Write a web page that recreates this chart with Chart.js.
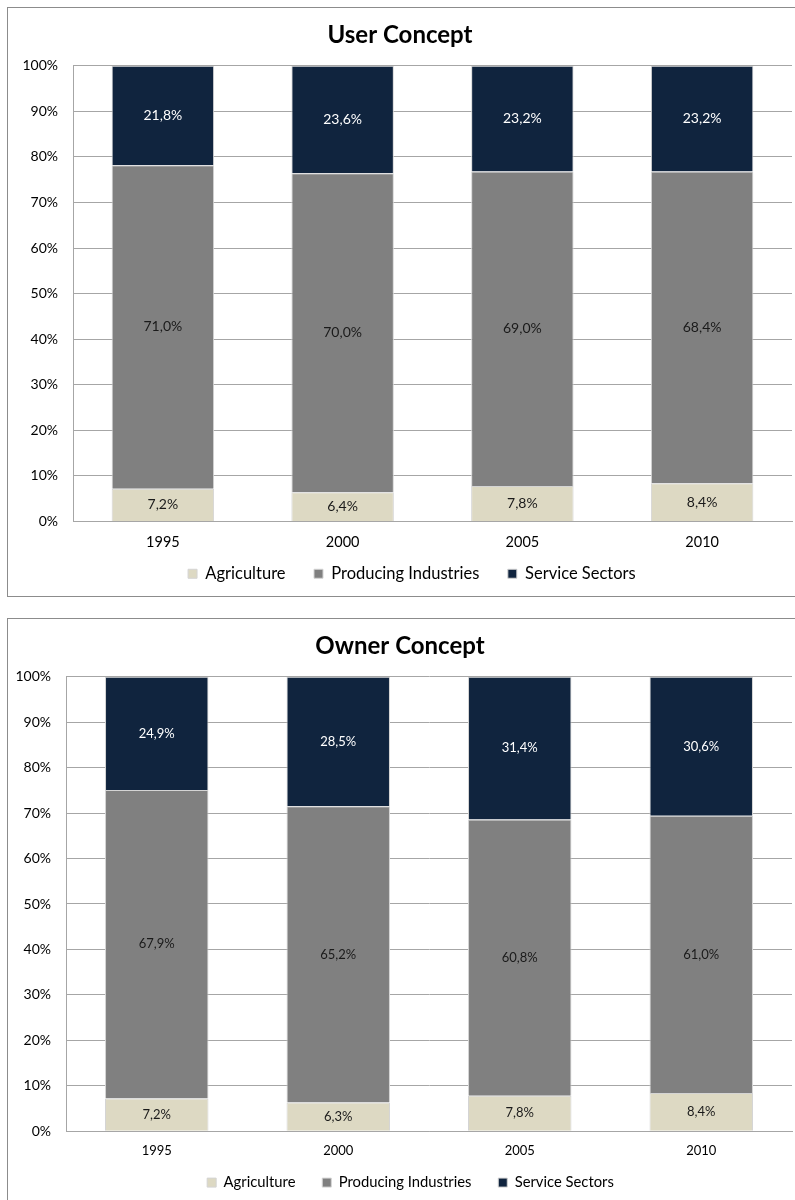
<!DOCTYPE html>
<html>
<head>
<meta charset="utf-8">
<script src="https://cdn.jsdelivr.net/npm/chart.js@4/dist/chart.umd.min.js"></script>
<style>
  body { margin: 0; background: #fff; }
  .box { position: absolute; left: 7px; width: 800px; border: 1px solid #8c8c8c; background: #fff; }
  #box1 { top: 7px; height: 588px; }
  #box2 { top: 618px; height: 600px; }
  .box canvas { position: absolute; left: 0; top: 0; }
</style>
</head>
<body>
<div class="box" id="box1"><canvas id="userChart" width="788" height="588"></canvas></div>
<div class="box" id="box2"><canvas id="ownerChart" width="788" height="587"></canvas></div>
<script>
// categories
let years = ["1995", "2000", "2005", "2010"];
let seriesNames = ["Agriculture", "Producing Industries", "Service Sectors"];
let seriesColors = ["#ddd9c3", "#808080", "#10243e"];
let yTicks = [0, 10, 20, 30, 40, 50, 60, 70, 80, 90, 100];

// User concept shares (%)
let userAgriculture = [7.2, 6.4, 7.8, 8.4];
let userProducing = [71.0, 70.0, 69.0, 68.4];
let userService = [21.8, 23.6, 23.2, 23.2];

// Owner concept shares (%)
let ownerAgriculture = [7.2, 6.3, 7.8, 8.4];
let ownerProducing = [67.9, 65.2, 60.8, 61.0];
let ownerService = [24.9, 28.5, 31.4, 30.6];

let FONT = "Lato";
let EN = "\u2002";

// Draw the value labels in the middle of each segment
let segmentLabels = {
  id: "segmentLabels",
  afterDatasetsDraw(chart) {
    let ctx = chart.ctx;
    ctx.save();
    ctx.font = chart.options.labelSize + "px " + FONT;
    ctx.textAlign = "center";
    ctx.textBaseline = "middle";
    chart.data.datasets.forEach((ds, i) => {
      let meta = chart.getDatasetMeta(i);
      meta.data.forEach((bar, j) => {
        let p = bar.getCenterPoint();
        ctx.fillStyle = i == 2 ? "#ffffff" : "#1a1a1a";
        ctx.fillText(ds.data[j].toFixed(1).replace(".", ",") + "%", p.x, p.y);
      });
    });
    ctx.restore();
  }
};

// sizes: [legend font, x tick font, value label font, bottom padding]
function createChart(elementID, title, data, plotLeft, sizes) {
  let createdDatasets = [];
  for (let i = 0; i < seriesNames.length; i++) {
    createdDatasets[i] = {
      label: seriesNames[i],
      data: data[i],
      backgroundColor: seriesColors[i],
      borderColor: "#d4d4d4",
      borderWidth: 1,
      barPercentage: 0.57,
      categoryPercentage: 1.0
    };
  }
  return new Chart(document.getElementById(elementID).getContext("2d"), {
    type: "bar",
    data: { labels: years, datasets: createdDatasets },
    plugins: [segmentLabels],
    options: {
      responsive: false,
      animation: false,
      labelSize: sizes[2],
      layout: { padding: { left: 0, right: 4, top: 0, bottom: sizes[3] } },
      plugins: {
        title: {
          display: true,
          text: title,
          color: "#000",
          font: { family: FONT, size: 24, weight: "bold" },
          padding: { top: 13, bottom: 16 }
        },
        legend: {
          position: "bottom",
          fullSize: false,
          labels: {
            color: "#000",
            font: { family: FONT, size: sizes[0] },
            boxWidth: 9,
            boxHeight: 9,
            padding: 12,
            // wider gaps between entries, and the row nudged left like the original
            generateLabels(chart) {
              let items = Chart.defaults.plugins.legend.labels.generateLabels(chart);
              items.forEach((it, k) => {
                it.text = it.text + (k == items.length - 1 ? EN.repeat(5) : EN.repeat(2));
              });
              return items;
            }
          }
        },
        tooltip: { enabled: false }
      },
      scales: {
        x: {
          stacked: true,
          grid: { display: false, drawTicks: false },
          border: { color: "#a6a6a6" },
          ticks: { color: "#000", font: { family: FONT, size: sizes[1] }, padding: 12 },
          afterFit(scale) { scale.height = 32; }
        },
        y: {
          stacked: true,
          min: 0,
          max: 100,
          afterBuildTicks(scale) { scale.ticks = yTicks.map(v => ({ value: v })); },
          grid: { color: "#a6a6a6", drawTicks: false },
          border: { color: "#a6a6a6" },
          ticks: {
            color: "#000",
            font: { family: FONT, size: 14 },
            padding: 15,
            callback: v => v + "%"
          },
          afterFit(scale) { scale.width = plotLeft; }
        }
      }
    }
  });
}

createChart("userChart", "User Concept", [userAgriculture, userProducing, userService], 65, [16.5, 14.5, 14, 4]);
createChart("ownerChart", "Owner Concept", [ownerAgriculture, ownerProducing, ownerService], 58, [14.8, 13, 13, 6]);
</script>
</body>
</html>
